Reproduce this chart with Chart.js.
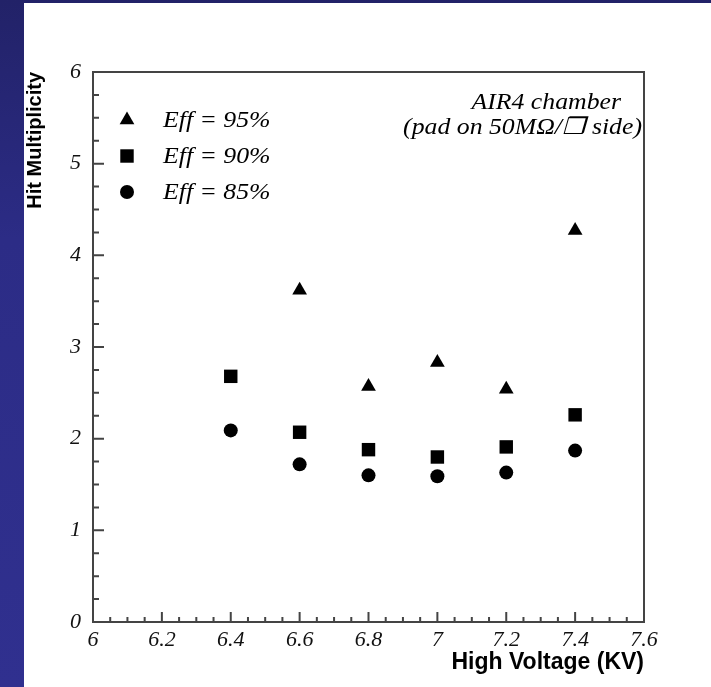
<!DOCTYPE html>
<html>
<head>
<meta charset="utf-8">
<script src="https://cdn.jsdelivr.net/npm/chart.js@4.4.0/dist/chart.umd.min.js"></script>
<style>
  html, body { margin: 0; padding: 0; }
  body {
    width: 711px; height: 687px; position: relative; overflow: hidden;
    background: linear-gradient(to bottom, #222268 0%, #2c2c86 35%, #30308f 100%);
  }
  #wrap { position: absolute; left: 24px; top: 3px; width: 687px; height: 684px; background: #fff; }
</style>
</head>
<body>
<div id="wrap"><canvas id="hitChart" width="687" height="684"></canvas></div>
<script>
// Hit multiplicity vs high voltage
const voltages = [6.4, 6.6, 6.8, 7.0, 7.2, 7.4];
const eff95 = [null, 3.62, 2.57, 2.83, 2.54, 4.27];
const eff90 = [2.68, 2.07, 1.88, 1.80, 1.91, 2.26];
const eff85 = [2.09, 1.72, 1.60, 1.59, 1.63, 1.87];
const seriesLabels = ['Eff = 95%', 'Eff = 90%', 'Eff = 85%'];
const noteLines = ['AIR4 chamber', '(pad on 50M\u03A9/\u2752 side)'];

const toPoints = (vals) => voltages.map((v, i) => ({x: v, y: vals[i]})).filter(p => p.y !== null);

const serif = "'Liberation Serif', 'Times New Roman', serif";
const sans = "'Liberation Sans', Arial, sans-serif";
const axisColor = '#444';

// box frame + inward ticks + in-plot legend and note
const framePlugin = {
  id: 'framePlugin',
  beforeDatasetsDraw(chart) {
    const {ctx, chartArea: a, scales: {x, y}} = chart;
    ctx.save();
    ctx.strokeStyle = axisColor;
    ctx.lineWidth = 2;
    ctx.strokeRect(a.left, a.top, a.right - a.left, a.bottom - a.top);
    ctx.beginPath();
    for (let i = 1; i < 32; i++) {
      const px = x.getPixelForValue(x.min + i * 0.05);
      const len = i % 4 === 0 ? 10 : 5;
      ctx.moveTo(px, a.bottom);
      ctx.lineTo(px, a.bottom - len);
    }
    for (let i = 1; i < 24; i++) {
      const py = y.getPixelForValue(i * 0.25);
      const len = i % 4 === 0 ? 11 : 6;
      ctx.moveTo(a.left, py);
      ctx.lineTo(a.left + len, py);
    }
    ctx.stroke();
    ctx.restore();
  },
  afterDatasetsDraw(chart) {
    const {ctx, chartArea: a} = chart;
    ctx.save();
    ctx.fillStyle = '#000';
    ctx.strokeStyle = '#000';
    ctx.textBaseline = 'middle';
    ctx.font = "italic 23px " + serif;
    chart.data.datasets.forEach((ds, i) => {
      const cy = a.top + 48 + i * 36;
      Chart.helpers.drawPoint(ctx, {pointStyle: ds.pointStyle, radius: ds.pointRadius, rotation: 0, borderWidth: 0}, a.left + 34, cy);
      ctx.save();
      ctx.translate(a.left + 70, cy + 1);
      ctx.scale(1.12, 1);
      ctx.textAlign = 'left';
      ctx.fillText(ds.label, 0, 0);
      ctx.restore();
    });
    const notePos = [[a.right - 23, a.top + 31], [a.right - 2, a.top + 56]];
    noteLines.forEach((t, i) => {
      ctx.save();
      ctx.translate(notePos[i][0], notePos[i][1]);
      ctx.scale(1.12, 1);
      ctx.textAlign = 'right';
      ctx.fillText(t, 0, 0);
      ctx.restore();
    });
    ctx.restore();
  }
};

const tickFmt = (v) => String(Math.round(v * 10) / 10);

new Chart('hitChart', {
  type: 'scatter',
  data: {
    datasets: [
      {label: seriesLabels[0], data: toPoints(eff95), pointStyle: 'triangle', pointRadius: 8.5},
      {label: seriesLabels[1], data: toPoints(eff90), pointStyle: 'rect', pointRadius: 9.5},
      {label: seriesLabels[2], data: toPoints(eff85), pointStyle: 'circle', pointRadius: 7}
    ].map(d => Object.assign(d, {backgroundColor: '#000', borderColor: '#000', borderWidth: 0, pointHoverRadius: d.pointRadius}))
  },
  options: {
    responsive: false,
    animation: false,
    layout: {padding: {left: 0, top: 69, right: 67, bottom: 0}},
    plugins: {legend: {display: false}, tooltip: {enabled: false}},
    scales: {
      x: {
        type: 'linear', min: 6, max: 7.6,
        afterFit: (s) => { s.height = 65; },
        ticks: {stepSize: 0.2, autoSkip: false, maxRotation: 0, padding: 5, color: '#111',
                callback: tickFmt, font: {family: serif, style: 'italic', size: 22}},
        grid: {display: false, drawTicks: false},
        border: {display: false},
        title: {display: true, text: 'High Voltage (KV)', align: 'end', color: '#000',
                font: {family: sans, weight: 'bold', size: 23, lineHeight: 1.1}, padding: {top: 0, bottom: 12}}
      },
      y: {
        type: 'linear', min: 0, max: 6,
        afterFit: (s) => { s.width = 69; },
        ticks: {stepSize: 1, padding: 12, color: '#111',
                callback: tickFmt, font: {family: serif, style: 'italic', size: 22}},
        grid: {display: false, drawTicks: false},
        border: {display: false},
        title: {display: true, text: 'Hit Multiplicity', align: 'end', color: '#000',
                font: {family: sans, weight: 'bold', size: 20, lineHeight: 1}, padding: {top: 1, bottom: 0}}
      }
    }
  },
  plugins: [framePlugin]
});
</script>
</body>
</html>
